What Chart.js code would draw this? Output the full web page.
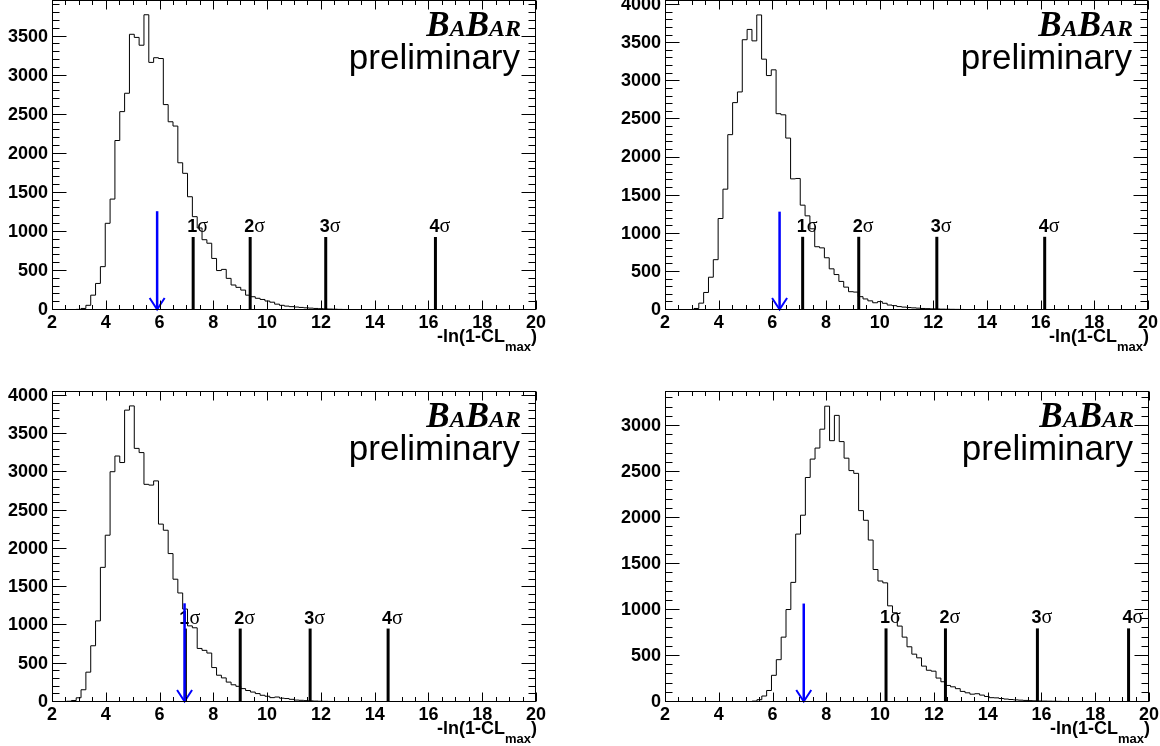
<!DOCTYPE html>
<html>
<head>
<meta charset="utf-8">
<script src="https://cdn.jsdelivr.net/npm/chart.js@4.4.1/dist/chart.umd.min.js"></script>
<style>
html, body { margin: 0; padding: 0; background: #fff; }
#wrap { position: relative; width: 1160px; height: 746px; overflow: hidden; background: #fff; }
#wrap canvas { position: absolute; }
</style>
</head>
<body>
<div id="wrap">
  <canvas id="c1" width="580" height="383" style="left:0px;top:-10px"></canvas>
  <canvas id="c2" width="580" height="383" style="left:580px;top:-10px"></canvas>
  <canvas id="c3" width="580" height="373" style="left:0px;top:373px"></canvas>
  <canvas id="c4" width="580" height="373" style="left:580px;top:373px"></canvas>
</div>
<script>
// ---------------- DATA ----------------
// Histogram binning: 100 bins between 2 and 20
const X_MIN = 2;
const X_MAX = 20;
const N_BINS = 100;

// Bin contents (top-left panel)
const countsA = [
  0, 0, 0, 0, 3, 8, 20, 60, 190, 340,
  555, 1110, 1420, 2170, 2540, 2775, 3530, 3490, 3390, 3780,
  3170, 3230, 3220, 2630, 2410, 2355, 1885, 1750, 1450, 1195,
  1050, 900, 855, 660, 505, 520, 405, 320, 290, 255,
  190, 170, 150, 135, 115, 100, 75, 60, 50, 43,
  38, 33, 28, 24, 20, 17, 14, 12, 10, 8,
  7, 6, 5, 4, 3, 3, 2, 2, 1, 1,
  1, 0, 0, 0, 0, 0, 0, 0, 0, 0,
  0, 0, 0, 0, 0, 0, 0, 0, 0, 0,
  0, 0, 0, 0, 0, 0, 0, 0, 0, 0
];
// Bin contents (top-right panel)
const countsB = [
  0, 0, 0, 0, 2, 5, 20, 90, 230, 430,
  660, 1200, 1585, 2300, 2720, 2860, 3545, 3680, 3530, 3870,
  3290, 3075, 3150, 2575, 2560, 2255, 1720, 1725, 1375, 1235,
  1065, 830, 815, 685, 540, 465, 375, 300, 240, 235,
  175, 145, 120, 95, 110, 88, 65, 57, 45, 38,
  32, 28, 24, 20, 18, 15, 13, 11, 10, 9,
  8, 7, 6, 5, 4, 3, 3, 2, 2, 1,
  1, 0, 0, 0, 0, 0, 0, 0, 0, 0,
  0, 0, 0, 0, 0, 0, 0, 0, 0, 0,
  0, 0, 0, 0, 0, 0, 0, 0, 0, 0
];
// Bin contents (bottom-left panel)
const countsC = [
  0, 3, 5, 10, 20, 55, 160, 390, 735, 1060,
  1760, 2180, 3010, 3215, 3130, 3815, 3870, 3315, 3260, 2845,
  2835, 2890, 2325, 2245, 1940, 1605, 1425, 1215, 995, 970,
  700, 675, 640, 450, 350, 315, 260, 225, 205, 175,
  150, 130, 110, 88, 75, 57, 65, 50, 45, 35,
  25, 22, 18, 15, 12, 10, 8, 7, 6, 5,
  4, 3, 3, 2, 2, 1, 1, 0, 0, 0,
  0, 0, 0, 0, 0, 0, 0, 0, 0, 0,
  0, 0, 0, 0, 0, 0, 0, 0, 0, 0,
  0, 0, 0, 0, 0, 0, 0, 0, 0, 0
];
// Bin contents (bottom-right panel)
const countsD = [
  0, 0, 0, 0, 0, 0, 0, 0, 0, 0,
  0, 0, 0, 0, 0, 0, 3, 5, 10, 25,
  65, 125, 290, 460, 705, 1005, 1300, 1825, 2030, 2440,
  2640, 2760, 2965, 3215, 2840, 3115, 2830, 2650, 2515, 2485,
  2080, 1975, 1760, 1440, 1315, 1295, 1045, 970, 825, 705,
  600, 520, 480, 390, 345, 335, 260, 220, 180, 165,
  145, 115, 100, 85, 90, 75, 60, 47, 45, 38,
  32, 27, 23, 20, 17, 15, 13, 11, 10, 9,
  8, 7, 6, 5, 4, 3, 3, 2, 2, 1,
  1, 1, 0, 0, 0, 0, 0, 0, 0, 0
];

// Significance thresholds (x positions) and their labels
const sigmaLabels = ['1', '2', '3', '4'];
const sigmaA = [7.25, 9.37, 12.18, 16.26];
const sigmaB = [7.13, 9.22, 12.13, 16.15];
const sigmaC = [6.96, 9.00, 11.60, 14.50];
const sigmaD = [10.22, 12.43, 15.85, 19.24];
// Height of the threshold markers (counts)
const sigmaHeightA = 935;
const sigmaHeightB = 960;
const sigmaHeightC = 960;
const sigmaHeightD = 800;

// Observed value (blue arrow) and arrow height (counts)
const observedA = 5.91, arrowHeightA = 1265;
const observedB = 6.27, arrowHeightB = 1290;
const observedC = 6.93, arrowHeightC = 1290;
const observedD = 7.16, arrowHeightD = 1070;

// y-axis upper limits
const yMaxA = 3969;
const yMaxB = 4066;
const yMaxC = 4065;
const yMaxD = 3380;

// Axis tick steps
const xMajorStep = 2, xMinorStep = 0.5;
const yMajorStep = 500, yMinorStep = 100;

const xTitleMain = '-ln(1-CL';
const xTitleSub = 'max';
const xTitleEnd = ')';

// ---------------- LAYOUT / STYLE ----------------
const SANS = '"Liberation Sans", Arial, Helvetica, sans-serif';
const SERIF = '"Liberation Serif", "Times New Roman", Times, serif';

const panels = [
  { id: 'c1', counts: countsA, sigmas: sigmaA, sigmaH: sigmaHeightA, obs: observedA, obsH: arrowHeightA, yMax: yMaxA,
    area: { left: 52, right: 536, top: 10, bottom: 320 } },
  { id: 'c2', counts: countsB, sigmas: sigmaB, sigmaH: sigmaHeightB, obs: observedB, obsH: arrowHeightB, yMax: yMaxB,
    area: { left: 85, right: 568, top: 10, bottom: 320 } },
  { id: 'c3', counts: countsC, sigmas: sigmaC, sigmaH: sigmaHeightC, obs: observedC, obsH: arrowHeightC, yMax: yMaxC,
    area: { left: 52, right: 536, top: 18, bottom: 329 } },
  { id: 'c4', counts: countsD, sigmas: sigmaD, sigmaH: sigmaHeightD, obs: observedD, obsH: arrowHeightD, yMax: yMaxD,
    area: { left: 85, right: 569, top: 18, bottom: 329 } }
];

// Labels for sigma lines (drawn before datasets so the arrow is on top)
const sigmaLabelPlugin = {
  id: 'sigmaLabels',
  beforeDatasetsDraw(chart) {
    const p = chart.options.plugins.sigmaLabels.panel;
    const { ctx, scales: { x, y } } = chart;
    ctx.save();
    ctx.fillStyle = '#000';
    ctx.textBaseline = 'alphabetic';
    ctx.textAlign = 'left';
    p.sigmas.forEach((s, i) => {
      const px = x.getPixelForValue(s);
      const py = y.getPixelForValue(p.sigmaH) - 5;
      ctx.font = 'bold 18px ' + SANS;
      const t = sigmaLabels[i];
      const w = ctx.measureText(t).width;
      const x0 = px - 6;
      ctx.fillText(t, x0, py);
      ctx.font = '20px ' + SERIF;
      ctx.fillText('\u03c3', x0 + w, py);
    });
    ctx.restore();
  }
};

// Frame, ticks on all sides, arrow head, axis title and logo
const framePlugin = {
  id: 'frameDecor',
  afterDatasetsDraw(chart) {
    const p = chart.options.plugins.frameDecor.panel;
    const { ctx, chartArea: a, scales: { x, y } } = chart;
    ctx.save();
    // arrow head
    const ax = x.getPixelForValue(p.obs);
    const ay = y.getPixelForValue(0);
    ctx.strokeStyle = '#0000ff';
    ctx.lineWidth = 2;
    ctx.beginPath();
    ctx.moveTo(ax - 7.5, ay - 12);
    ctx.lineTo(ax, ay - 0.5);
    ctx.lineTo(ax + 7.5, ay - 12);
    ctx.stroke();

    // frame
    ctx.strokeStyle = '#000';
    ctx.lineWidth = 1;
    const L = Math.round(a.left) + 0.5, R = Math.round(a.right) - 0.5;
    const T = Math.round(a.top) + 0.5, B = Math.round(a.bottom) - 0.5;
    ctx.strokeRect(L, T, R - L, B - T);
    ctx.beginPath();
    const nx = Math.round((X_MAX - X_MIN) / xMinorStep);
    for (let k = 0; k <= nx; k++) {
      const v = X_MIN + k * xMinorStep;
      const major = (k % Math.round(xMajorStep / xMinorStep)) === 0;
      const len = major ? 9 : 4.5;
      const px = Math.round(x.getPixelForValue(v)) + 0.5;
      ctx.moveTo(px, B); ctx.lineTo(px, B - len);
      ctx.moveTo(px, T); ctx.lineTo(px, T + len);
    }
    const ny = Math.floor(p.yMax / yMinorStep);
    for (let k = 0; k <= ny; k++) {
      const v = k * yMinorStep;
      const major = (v % yMajorStep) === 0;
      const len = major ? 14 : 7;
      const py = Math.round(y.getPixelForValue(v)) - 0.5;
      ctx.moveTo(L, py); ctx.lineTo(L + len, py);
      ctx.moveTo(R, py); ctx.lineTo(R - len, py);
    }
    ctx.stroke();

    // x-axis title with subscript
    ctx.fillStyle = '#000';
    ctx.textBaseline = 'alphabetic';
    ctx.textAlign = 'left';
    const fMain = 'bold 18px ' + SANS, fSub = 'bold 13px ' + SANS;
    ctx.font = fMain; const w1 = ctx.measureText(xTitleMain).width; const w3 = ctx.measureText(xTitleEnd).width;
    ctx.font = fSub; const w2 = ctx.measureText(xTitleSub).width;
    let tx = a.right + 1 - (w1 + w2 + w3);
    const tb = a.bottom + 32;
    ctx.font = fMain; ctx.fillText(xTitleMain, tx, tb); tx += w1;
    ctx.font = fSub; ctx.fillText(xTitleSub, tx, tb + 9); tx += w2;
    ctx.font = fMain; ctx.fillText(xTitleEnd, tx, tb);

    // BaBar logo
    const parts = [['B', 35], ['A', 24], ['B', 35], ['AR', 24]];
    let tot = 0;
    parts.forEach(([s, sz]) => { ctx.font = 'italic bold ' + sz + 'px ' + SERIF; tot += ctx.measureText(s).width; });
    let lx = a.right - 15 - tot;
    parts.forEach(([s, sz]) => {
      ctx.font = 'italic bold ' + sz + 'px ' + SERIF;
      ctx.fillText(s, lx, a.top + 36);
      lx += ctx.measureText(s).width;
    });
    ctx.font = '35px ' + SANS;
    ctx.textAlign = 'right';
    ctx.fillText('preliminary', a.right - 16, a.top + 69);
    ctx.restore();
  }
};

function makeChart(p) {
  const canvas = document.getElementById(p.id);
  const W = canvas.width, H = canvas.height;
  const edges = [];
  for (let k = 0; k <= N_BINS; k++) edges.push(X_MIN + (X_MAX - X_MIN) * k / N_BINS);
  const hist = p.counts.map((c, k) => ({ x: edges[k], y: c }));
  hist.push({ x: edges[N_BINS], y: p.counts[N_BINS - 1] });

  const xTickValues = [];
  for (let v = X_MIN; v <= X_MAX + 1e-9; v += xMajorStep) xTickValues.push(v);
  const yTickValues = [];
  for (let v = 0; v <= p.yMax; v += yMajorStep) yTickValues.push(v);

  const datasets = [];
  datasets.push({
    label: 'observed', data: [{ x: p.obs, y: 0 }, { x: p.obs, y: p.obsH }],
    borderColor: '#0000ff', borderWidth: 2.5, pointRadius: 0, tension: 0, order: 0, borderCapStyle: 'butt'
  });
  p.sigmas.forEach((s, i) => datasets.push({
    label: sigmaLabels[i] + 'σ', data: [{ x: s, y: 0 }, { x: s, y: p.sigmaH }],
    borderColor: '#000', borderWidth: 3, pointRadius: 0, tension: 0, order: 1, borderCapStyle: 'butt'
  }));
  datasets.push({
    label: 'toys', data: hist, stepped: 'before',
    borderColor: '#000', borderWidth: 1, pointRadius: 0, tension: 0, order: 2, fill: false
  });

  const tickFont = { family: SANS, size: 18, weight: 'bold' };
  return new Chart(canvas, {
    type: 'line',
    data: { datasets },
    options: {
      responsive: false,
      animation: false,
      events: [],
      layout: { padding: { top: p.area.top, right: W - p.area.right, left: 0, bottom: 0 } },
      plugins: {
        legend: { display: false },
        tooltip: { enabled: false },
        sigmaLabels: { panel: p },
        frameDecor: { panel: p }
      },
      scales: {
        x: {
          type: 'linear', min: X_MIN, max: X_MAX,
          grid: { display: false, drawTicks: false },
          border: { display: false },
          ticks: {
            autoSkip: false, maxRotation: 0, padding: 2,
            color: '#000', font: tickFont,
            callback: v => String(v)
          },
          afterBuildTicks: s => { s.ticks = xTickValues.map(v => ({ value: v })); },
          afterFit: s => { s.height = H - p.area.bottom; s.paddingLeft = 0; s.paddingRight = 0; }
        },
        y: {
          type: 'linear', min: 0, max: p.yMax,
          grid: { display: false, drawTicks: false },
          border: { display: false },
          ticks: {
            autoSkip: false, padding: 4,
            color: '#000', font: tickFont,
            callback: v => String(v)
          },
          afterBuildTicks: s => { s.ticks = yTickValues.map(v => ({ value: v })); },
          afterFit: s => { s.width = p.area.left; s.paddingTop = 0; s.paddingBottom = 0; }
        }
      }
    },
    plugins: [sigmaLabelPlugin, framePlugin]
  });
}

panels.forEach(makeChart);
</script>
</body>
</html>
